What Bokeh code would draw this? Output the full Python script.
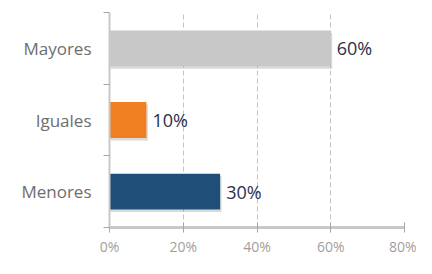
from bokeh.plotting import figure
from bokeh.models import FixedTicker, NumeralTickFormatter, Range1d, ColumnDataSource
from bokeh.embed import file_html
from bokeh.resources import INLINE
from bokeh.core.properties import value

categories = ["Menores", "Iguales", "Mayores"]
values = [0.30, 0.10, 0.60]
colors = ["#1f4e79", "#f07f22", "#c8c8c8"]
labels = ["30%", "10%", "60%"]
x_ticks = [0, 0.2, 0.4, 0.6, 0.8]

pos = [i + 0.5 for i in range(len(categories))]
src = ColumnDataSource(dict(y=pos, ys=[q - 0.035 for q in pos], v=values,
                            vs=[x + 0.004 for x in values], c=colors, t=labels))

p = figure(width=416, height=258, output_backend="svg", toolbar_location=None,
           x_range=Range1d(0, 0.8), y_range=Range1d(0, len(categories)),
           min_border_left=109, min_border_right=12, min_border_top=12, min_border_bottom=0)
p.outline_line_color = None
p.background_fill_color = "white"
p.border_fill_color = "white"

# soft shadow under bars
p.hbar(y="ys", left=0.002, right="vs", height=0.5, source=src, fill_color="#555555",
       fill_alpha=0.22, line_color=None)
p.hbar(y="y", left=0, right="v", height=0.5, source=src, fill_color="c", line_color=None)

p.text(x="v", y="y", text="t", source=src, x_offset=6, text_baseline="middle", text_align="left",
       text_font=value("Open Sans"), text_font_size="18px", text_color="#2a3048")

p.xaxis.ticker = FixedTicker(ticks=x_ticks)
p.xaxis.formatter = NumeralTickFormatter(format="0%")
p.xaxis.axis_line_color = "#c8c8c8"
p.xaxis.axis_line_width = 3
p.xaxis.major_tick_line_color = "#a6a6a6"
p.xaxis.major_tick_in = 5
p.xaxis.major_tick_out = 5
p.xaxis.minor_tick_line_color = None
p.xaxis.major_label_text_font = "Open Sans"
p.xaxis.major_label_text_font_size = "14px"
p.xaxis.major_label_text_color = "#a0a0a0"
p.xaxis.major_label_standoff = 4

p.yaxis.ticker = FixedTicker(ticks=pos, minor_ticks=list(range(len(categories) + 1)))
p.yaxis.major_label_overrides = {pp: c for pp, c in zip(pos, categories)}
p.yaxis.major_tick_line_color = None
p.yaxis.minor_tick_line_color = "#a6a6a6"
p.yaxis.minor_tick_out = 6
p.yaxis.minor_tick_in = 0
p.yaxis.axis_line_color = "#c8c8c8"
p.yaxis.axis_line_width = 2
p.yaxis.major_label_text_font = "Open Sans"
p.yaxis.major_label_text_font_size = "17px"
p.yaxis.major_label_text_color = "#6e6e6e"
p.yaxis.major_label_standoff = 12

p.ygrid.grid_line_color = None
p.xgrid.ticker = FixedTicker(ticks=x_ticks[1:])
p.xgrid.grid_line_color = "#c4c4c4"
p.xgrid.grid_line_dash = "5 3"

open("out.html", "w").write(file_html(p, INLINE))
